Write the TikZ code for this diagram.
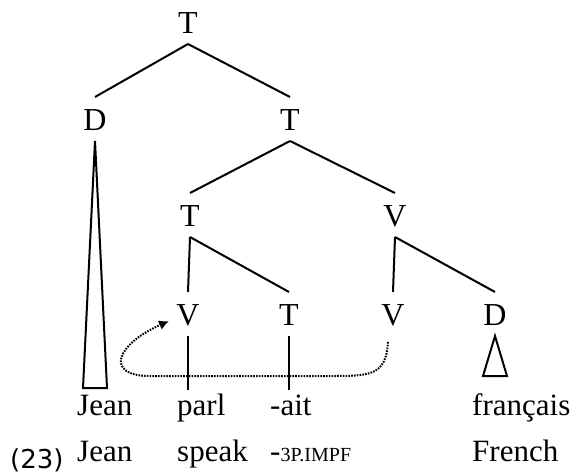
\documentclass[tikz,border=0pt]{standalone}
\usepackage{fontspec}
\setmainfont{Liberation Serif}
\newfontfamily\numfont{DejaVu Sans}
\usetikzlibrary{arrows.meta}
\begin{document}
\begin{tikzpicture}[x=1pt,y=-1pt,
  cat/.style={inner sep=0pt, outer sep=11pt, text height=22pt, text depth=0pt,
    anchor=base, font=\fontsize{32}{32}\selectfont},
  word/.style={inner sep=0pt, anchor=base west, font=\fontsize{31}{31}\selectfont},
  branch/.style={line width=2pt},
  move/.style={line width=2pt, dash pattern=on 1.6pt off 1.2pt,
    -{Latex[length=10pt,width=10pt]}}]
\useasboundingbox (0,0) rectangle (581,474);

% category labels
\node[cat] (T0) at (188,33) {T};
\node[cat] (D1) at (95,130) {D};
\node[cat] (T1) at (290,130) {T};
\node[cat] (T2) at (190,226) {T};
\node[cat] (V2) at (395,226) {V};
\node[cat] (V3) at (188,325) {V};
\node[cat] (T3) at (289,325) {T};
\node[cat] (Vt) at (393,325) {V};
\node[cat] (D3) at (495,325) {D};

% branches
\draw[branch] (T0.south) -- (D1.north);
\draw[branch] (T0.south) -- (T1.north);
\draw[branch] (T1.south) -- (T2.north);
\draw[branch] (T1.south) -- (V2.north);
\draw[branch] (T2.south) -- (V3.north);
\draw[branch] (T2.south) -- (T3.north);
\draw[branch] (V2.south) -- (Vt.north);
\draw[branch] (V2.south) -- (D3.north);

% unanalysed constituents
\draw[branch, line join=miter] (D1.south) -- ++(-12,247) -- ++(24,0) -- cycle;
\draw[branch, line join=miter] (D3.south) -- ++(-12,40) -- ++(24,0) -- cycle;
\draw[branch] (V3.south) -- ++(0,54);
\draw[branch] (T3.south) -- ++(0,54);

% head movement of the verb
\coordinate (mvS) at (388,342);
\coordinate (mvE) at (169,321);
\draw[move] (mvS) .. controls (386,376) and (370,376) .. (330,376)
  -- (150,376) .. controls (105,376) and (115,345) .. (mvE);

% words and glosses
\node[word] (w1) at (77,415) {Jean};
\node[word] (w2) at (177,415) {parl};
\node[word] (w3) at (270,415) {-ait};
\node[word] (w4) at (472,415) {français};
\node[word] (g1) at (77,461) {Jean};
\node[word] (g2) at (177,461) {speak};
\node[word] (g3) at (270,461) {-{\fontsize{20}{20}\selectfont 3P.IMPF}};
\node[word] (g4) at (472,461) {French};
\node[inner sep=0pt, anchor=base west, font=\numfont\fontsize{26}{26}\selectfont] (ex) at (10,468) {(23)};
\end{tikzpicture}
\end{document}
